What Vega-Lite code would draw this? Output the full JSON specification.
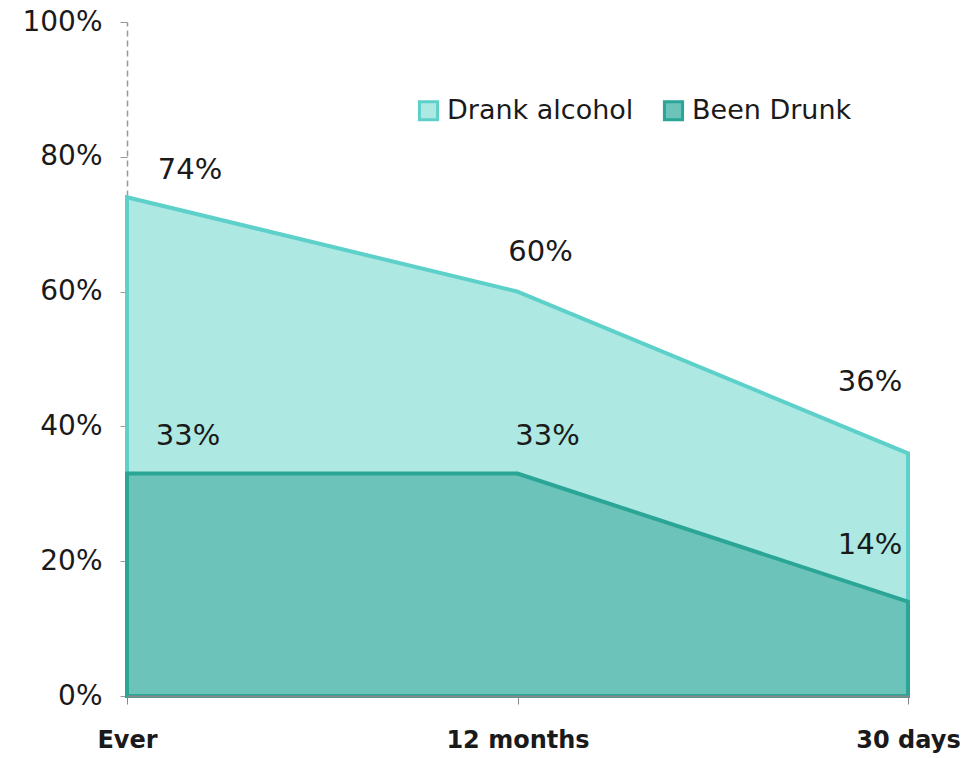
{
  "$schema": "https://vega.github.io/schema/vega-lite/v6.json",
  "autosize": "none",
  "width": 781,
  "height": 674,
  "padding": {"left": 127, "top": 22, "right": 61, "bottom": 62},
  "background": "white",
  "config": {
    "view": {"stroke": null},
    "font": "DejaVu Sans",
    "text": {"font": "DejaVu Sans", "fontSize": 29, "color": "#1a1a1a"}
  },
  "data": {
    "values": [
      {"period": "Ever", "series": "Drank alcohol", "pct": 74},
      {"period": "12 months", "series": "Drank alcohol", "pct": 60},
      {"period": "30 days", "series": "Drank alcohol", "pct": 36},
      {"period": "Ever", "series": "Been Drunk", "pct": 33},
      {"period": "12 months", "series": "Been Drunk", "pct": 33},
      {"period": "30 days", "series": "Been Drunk", "pct": 14}
    ]
  },
  "transform": [{"calculate": "datum.pct + '%'", "as": "label"}],
  "encoding": {
    "x": {
      "field": "period",
      "type": "ordinal",
      "sort": ["Ever", "12 months", "30 days"],
      "scale": {"type": "point", "padding": 0},
      "axis": {
        "title": null,
        "zindex": 1,
        "labelAngle": 0,
        "labelFont": "DejaVu Sans",
        "labelFontSize": 24,
        "labelFontWeight": "bold",
        "labelColor": "#1a1a1a",
        "labelPadding": 24,
        "domainColor": "#888888",
        "domainWidth": 2,
        "tickColor": "#888888",
        "tickSize": 8
      }
    },
    "y": {
      "field": "pct",
      "type": "quantitative",
      "stack": null,
      "scale": {"domain": [0, 100], "nice": false},
      "axis": {
        "title": null,
        "values": [0, 20, 40, 60, 80, 100],
        "labelExpr": "datum.value + '%'",
        "labelFont": "DejaVu Sans",
        "labelFontSize": 28,
        "labelColor": "#1a1a1a",
        "labelPadding": 18,
        "grid": false,
        "domainColor": "#999999",
        "domainDash": [6, 4],
        "domainWidth": 1.5,
        "tickColor": "#999999",
        "tickSize": 7
      }
    }
  },
  "layer": [
    {
      "transform": [{"filter": "datum.series == 'Drank alcohol'"}],
      "mark": {"type": "area", "strokeWidth": 4, "opacity": 1},
      "encoding": {
        "fill": {
          "field": "series",
          "type": "nominal",
          "scale": {"domain": ["Drank alcohol", "Been Drunk"], "range": ["#ade8e2", "#6cc3b9"]},
          "legend": {
            "title": null,
            "orient": "none",
            "legendX": 288,
            "legendY": 75,
            "direction": "horizontal",
            "symbolType": "square",
            "symbolSize": 330,
            "symbolStrokeWidth": 3,
            "labelFont": "DejaVu Sans",
            "labelFontSize": 27,
            "labelLimit": 400,
            "labelColor": "#1a1a1a",
            "columnPadding": 24,
            "labelOffset": 5
          }
        },
        "stroke": {
          "field": "series",
          "type": "nominal",
          "scale": {"domain": ["Drank alcohol", "Been Drunk"], "range": ["#5dd0c9", "#2aa596"]},
          "legend": {
            "title": null,
            "orient": "none",
            "legendX": 288,
            "legendY": 75,
            "direction": "horizontal",
            "symbolType": "square",
            "symbolSize": 330,
            "symbolStrokeWidth": 3,
            "labelFont": "DejaVu Sans",
            "labelFontSize": 27,
            "labelLimit": 400,
            "labelColor": "#1a1a1a",
            "columnPadding": 24,
            "labelOffset": 5
          }
        }
      }
    },
    {
      "transform": [{"filter": "datum.series == 'Been Drunk'"}],
      "mark": {"type": "area", "strokeWidth": 4, "opacity": 1},
      "encoding": {
        "fill": {"field": "series", "type": "nominal"},
        "stroke": {"field": "series", "type": "nominal"}
      }
    },
    {
      "transform": [{"filter": "datum.period == 'Ever' && datum.series == 'Drank alcohol'"}],
      "mark": {"type": "text", "dx": 63, "dy": -27},
      "encoding": {"text": {"field": "label", "type": "nominal"}}
    },
    {
      "transform": [{"filter": "datum.period == 'Ever' && datum.series == 'Been Drunk'"}],
      "mark": {"type": "text", "dx": 61, "dy": -38},
      "encoding": {"text": {"field": "label", "type": "nominal"}}
    },
    {
      "transform": [{"filter": "datum.period == '12 months' && datum.series == 'Drank alcohol'"}],
      "mark": {"type": "text", "dx": 23, "dy": -40},
      "encoding": {"text": {"field": "label", "type": "nominal"}}
    },
    {
      "transform": [{"filter": "datum.period == '12 months' && datum.series == 'Been Drunk'"}],
      "mark": {"type": "text", "dx": 30, "dy": -38},
      "encoding": {"text": {"field": "label", "type": "nominal"}}
    },
    {
      "transform": [{"filter": "datum.period == '30 days' && datum.series == 'Drank alcohol'"}],
      "mark": {"type": "text", "dx": -38, "dy": -71},
      "encoding": {"text": {"field": "label", "type": "nominal"}}
    },
    {
      "transform": [{"filter": "datum.period == '30 days' && datum.series == 'Been Drunk'"}],
      "mark": {"type": "text", "dx": -38, "dy": -57},
      "encoding": {"text": {"field": "label", "type": "nominal"}}
    }
  ]
}
